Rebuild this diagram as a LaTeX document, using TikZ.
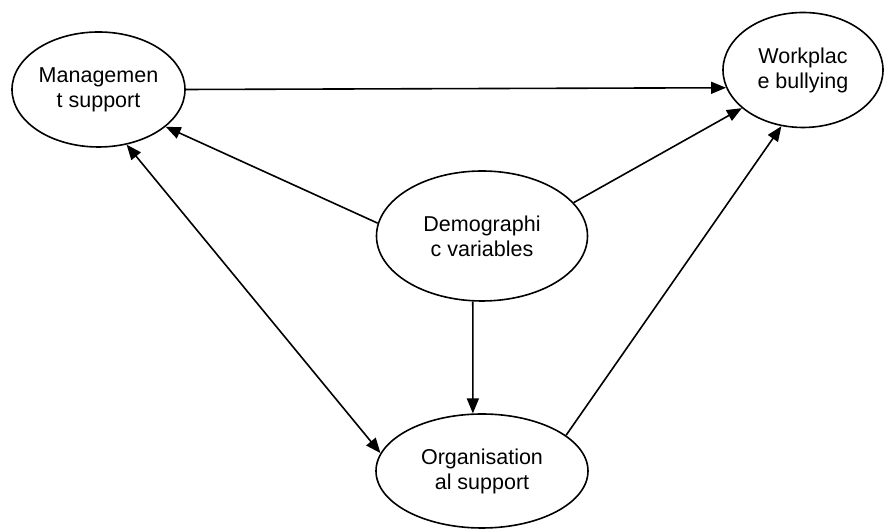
\documentclass[tikz,border=0pt]{standalone}
\usepackage{fontspec}
\setmainfont{Liberation Sans}
\usetikzlibrary{shapes,arrows.meta,positioning}

\begin{document}
\begin{tikzpicture}[x=1pt,y=1pt,
    factor/.style={ellipse,draw,line width=1.6pt,inner sep=0pt,align=center,
      font=\fontsize{21.5}{25}\selectfont},
    rel/.style={line width=1.6pt,-{Triangle[length=15pt,width=12pt]}}]
      \useasboundingbox (0,0) rectangle (886,529);
      \node[factor, minimum width=173, minimum height=115] (mgmt) at (98.5,439.5) {Managemen\\t support};
      \node[factor, minimum width=160, minimum height=115] (bully) at (803,459) {Workplac\\e bullying};
      \node[factor, minimum width=211, minimum height=130] (demo) at (482,293) {Demographi\\c variables};
      \node[factor, minimum width=212, minimum height=114] (orgsup) at (482,58) {Organisation\\al support};
      % relations
      \draw[rel] (mgmt.east) -- (bully.193);
      \draw[rel] (demo.173) -- (mgmt.331);
      \draw[rel, {Triangle[length=15pt,width=12pt]}-{Triangle[length=15pt,width=12pt]}] (mgmt.297) -- (orgsup.170);
      \draw[rel] (demo.20) -- (bully.212);
      \draw[rel] (demo.262) -- (orgsup.99);
      \draw[rel] (orgsup.23) -- (bully.249);
    \end{tikzpicture}
\end{document}
